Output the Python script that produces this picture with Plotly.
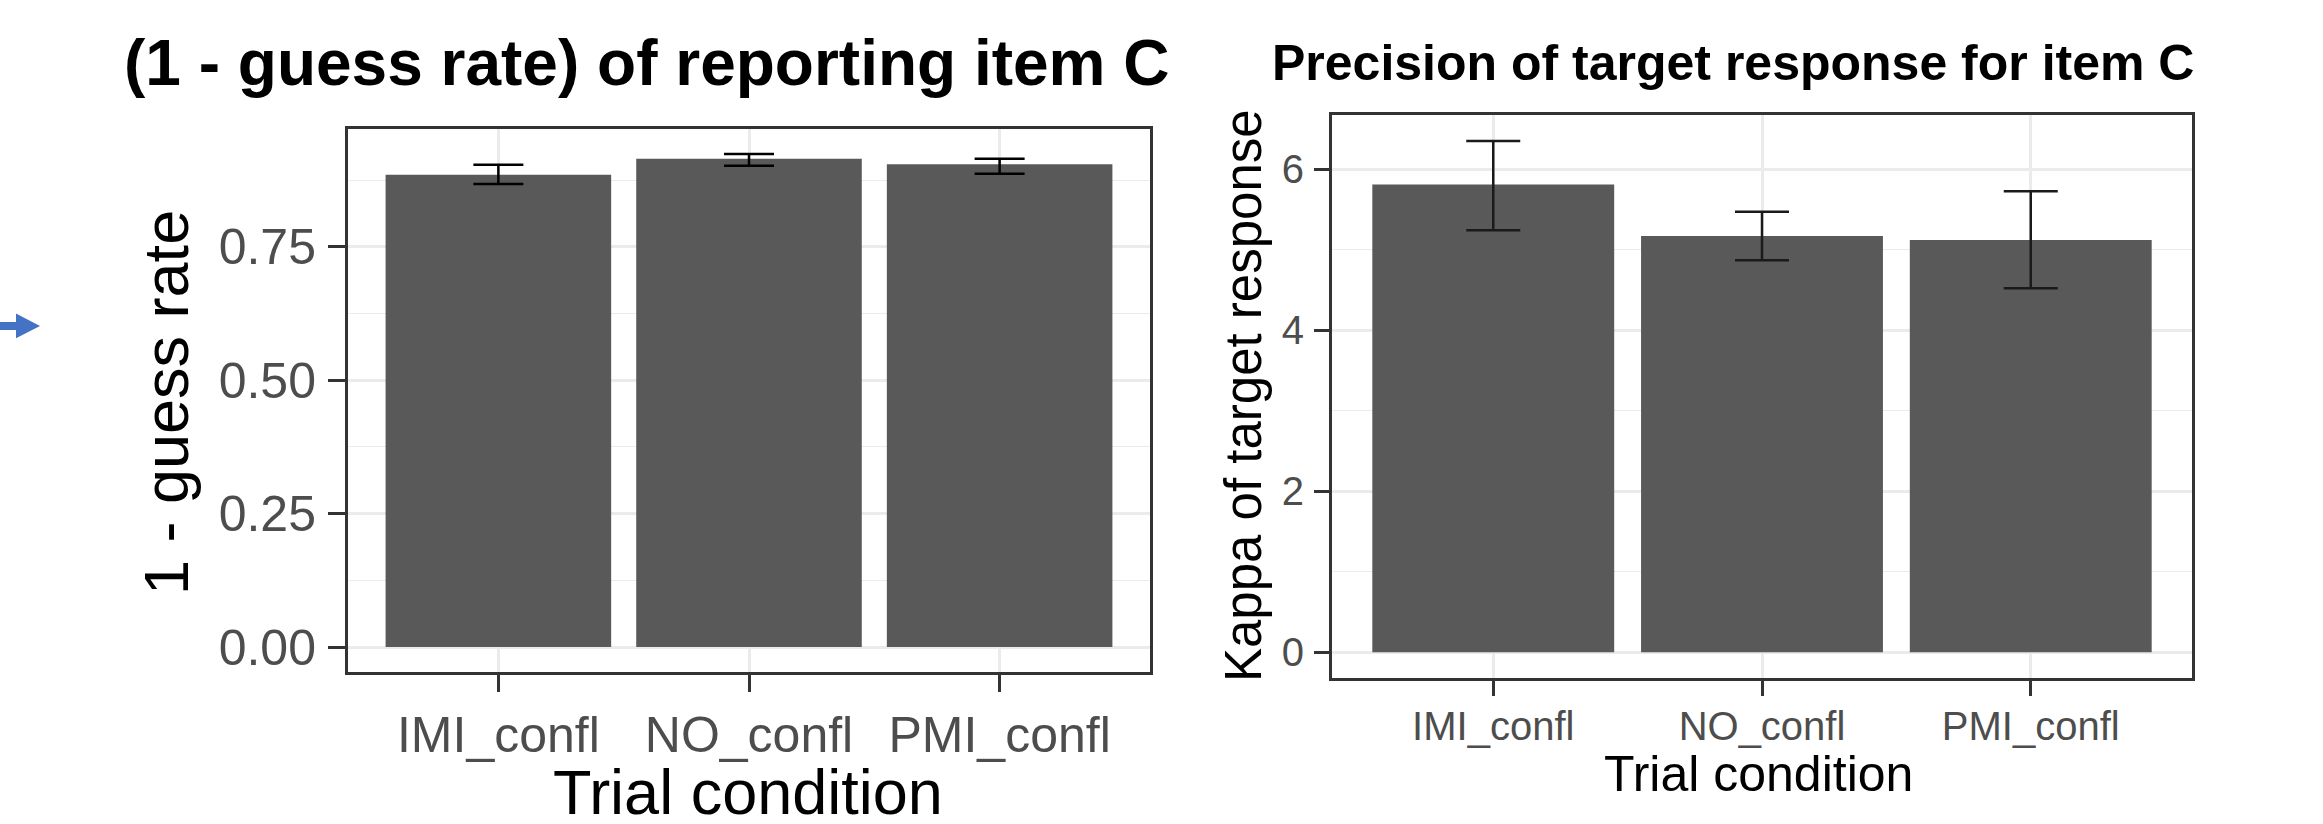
import plotly.graph_objects as go

# ---------------- data ----------------
categories = ["IMI_confl", "NO_confl", "PMI_confl"]

guess_value = [0.885, 0.915, 0.905]
guess_lower = [0.868, 0.902, 0.887]
guess_upper = [0.904, 0.924, 0.915]
guess_tickvals = [0.0, 0.25, 0.50, 0.75]
guess_ticktext = ["0.00", "0.25", "0.50", "0.75"]
guess_minor = [0.125, 0.375, 0.625, 0.875]

kappa_value = [5.81, 5.17, 5.12]
kappa_lower = [5.24, 4.87, 4.52]
kappa_upper = [6.35, 5.47, 5.725]
kappa_tickvals = [0, 2, 4, 6]
kappa_ticktext = ["0", "2", "4", "6"]
kappa_minor = [1, 3, 5]

title_left = "(1 - guess rate) of reporting item C"
title_right = "Precision of target response for item C"
ytitle_left = "1 - guess rate"
ytitle_right = "Kappa of target response"
xtitle = "Trial condition"

# ---------------- geometry helpers ----------------
W, H = 2323, 824
FONT = "Liberation Sans, Arial, sans-serif"
BAR = "#595959"
GRID = "#EBEBEB"
BORDER = "#333333"
TICKTXT = "#4D4D4D"


def fx(px):
    return px / W


def fy(py):
    return 1 - py / H


def expand(lo, hi, mult=0.05):
    span = hi - lo
    return [lo - mult * span, hi + mult * span]


fig = go.Figure()

fig.add_trace(go.Bar(
    x=categories, y=guess_value, width=0.9,
    marker=dict(color=BAR, line=dict(width=0)),
    error_y=dict(type="data", symmetric=False,
                 array=[u - v for u, v in zip(guess_upper, guess_value)],
                 arrayminus=[v - l for v, l in zip(guess_value, guess_lower)],
                 color="#000000", thickness=2.5, width=25),
    xaxis="x", yaxis="y", showlegend=False, hoverinfo="x+y",
))

fig.add_trace(go.Bar(
    x=categories, y=kappa_value, width=0.9,
    marker=dict(color=BAR, line=dict(width=0)),
    error_y=dict(type="data", symmetric=False,
                 array=[u - v for u, v in zip(kappa_upper, kappa_value)],
                 arrayminus=[v - l for v, l in zip(kappa_value, kappa_lower)],
                 color="#1A1A1A", thickness=2.5, width=27),
    xaxis="x2", yaxis="y2", showlegend=False, hoverinfo="x+y",
))


def xaxis_style(domain, anchor, tfsize, ticklen, standoff):
    return dict(
        domain=domain, anchor=anchor, type="category",
        range=[-0.6, len(categories) - 0.4],
        showline=True, mirror=True, linecolor=BORDER, linewidth=3,
        ticks="outside", ticklen=ticklen, tickwidth=3, tickcolor=BORDER,
        tickfont=dict(family=FONT, size=tfsize, color=TICKTXT),
        ticklabelstandoff=standoff,
        showgrid=True, gridcolor=GRID, gridwidth=2.5, zeroline=False,
        fixedrange=True,
    )


def yaxis_style(domain, anchor, rng, tv, tt, minor, tfsize, ticklen, standoff):
    return dict(
        domain=domain, anchor=anchor, range=rng,
        tickmode="array", tickvals=tv, ticktext=tt,
        showline=True, mirror=True, linecolor=BORDER, linewidth=3,
        ticks="outside", ticklen=ticklen, tickwidth=3, tickcolor=BORDER,
        tickfont=dict(family=FONT, size=tfsize, color=TICKTXT),
        ticklabelstandoff=standoff,
        showgrid=True, gridcolor=GRID, gridwidth=2.5, zeroline=False,
        minor=dict(tickmode="array", tickvals=minor, showgrid=True,
                   gridcolor=GRID, gridwidth=1.3, ticks=""),
        fixedrange=True,
    )


rng_left = expand(0, max(guess_upper))
rng_right = expand(0, max(kappa_upper))

annotations = [
    dict(text="<b>" + title_left + "</b>", x=fx(646), y=fy(63),
         font=dict(family=FONT, size=64, color="#000000")),
    dict(text="<b>" + title_right + "</b>", x=fx(1733), y=fy(63),
         font=dict(family=FONT, size=50, color="#000000")),
    dict(text=ytitle_left, x=fx(166), y=fy(405), textangle=-90,
         font=dict(family=FONT, size=63, color="#000000")),
    dict(text=xtitle, x=fx(748), y=fy(796),
         font=dict(family=FONT, size=63, color="#000000")),
    dict(text=ytitle_right, x=fx(1243), y=fy(398), textangle=-90,
         font=dict(family=FONT, size=51, color="#000000")),
    dict(text=xtitle, x=fx(1759), y=fy(778),
         font=dict(family=FONT, size=50, color="#000000")),
]
for a in annotations:
    a.update(xref="paper", yref="paper", showarrow=False,
             xanchor="center", yanchor="middle")

# small blue arrow at the left edge (decoration)
arrow_pts = [(0, 323.5), (16, 323.5), (16, 315), (40, 327.5),
             (16, 340), (16, 331.5), (0, 331.5)]
arrow_path = "M " + " L ".join(f"{fx(x):.5f},{fy(y):.5f}" for x, y in arrow_pts) + " Z"

fig.update_layout(
    width=W, height=H,
    margin=dict(l=0, r=0, t=0, b=0),
    paper_bgcolor="white", plot_bgcolor="white",
    font=dict(family=FONT),
    bargap=0.1,
    xaxis=xaxis_style([fx(348), fx(1150)], "y", 50, 17, 0),
    yaxis=yaxis_style([fy(675), fy(130)], "x", rng_left,
                      guess_tickvals, guess_ticktext, guess_minor, 50, 17, 2),
    xaxis2=xaxis_style([fx(1332), fx(2192)], "y2", 40, 15, -4),
    yaxis2=yaxis_style([fy(681), fy(116)], "x2", rng_right,
                       kappa_tickvals, kappa_ticktext, kappa_minor, 40, 15, 2),
    annotations=annotations,
    shapes=[dict(type="path", path=arrow_path, xref="paper", yref="paper",
                 fillcolor="#4472C4", line=dict(width=0))],
)

fig.write_html("out.html",
               config={"displayModeBar": False},
               post_script="document.body.style.margin='0';document.body.style.overflow='hidden';")
